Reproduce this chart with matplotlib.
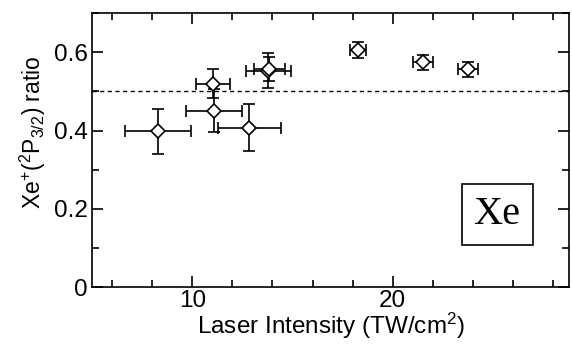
import matplotlib
matplotlib.use('Agg')
import matplotlib.pyplot as plt
from matplotlib.ticker import MultipleLocator

# data
intensity = [8.27, 11.02, 11.07, 12.85, 13.80, 13.85, 18.27, 21.52, 23.77]
intensity_err = [1.64, 0.85, 1.40, 1.58, 1.11, 0.78, 0.38, 0.50, 0.50]
ratio = [0.398, 0.520, 0.451, 0.407, 0.553, 0.557, 0.606, 0.574, 0.557]
ratio_err = [0.057, 0.037, 0.055, 0.060, 0.045, 0.030, 0.020, 0.020, 0.019]
ref_level = 0.5

plt.rcParams['font.family'] = ['Liberation Sans', 'DejaVu Sans']
plt.rcParams['mathtext.default'] = 'regular'

fig = plt.figure(figsize=(5.72, 3.45), dpi=100)
ax = fig.add_axes([0.161, 0.168, 0.834, 0.794])

ax.errorbar(intensity, ratio, xerr=intensity_err, yerr=ratio_err, fmt='D',
            mfc='white', mec='black', ecolor='black', ms=7, mew=1.2,
            elinewidth=1.2, capsize=4.5, capthick=1.2)
ax.axhline(ref_level, color='black', ls=(0, (3, 2.5)), lw=1)

ax.set_xlim(5, 28.8)
ax.set_ylim(0, 0.7)
ax.xaxis.set_major_locator(MultipleLocator(10))
ax.xaxis.set_minor_locator(MultipleLocator(2))
ax.yaxis.set_major_locator(MultipleLocator(0.2))
ax.yaxis.set_minor_locator(MultipleLocator(0.1))
ax.set_yticks([0, 0.2, 0.4, 0.6])
ax.set_yticklabels(['0', '0.2', '0.4', '0.6'])
ax.tick_params(which='both', direction='in', top=True, right=True,
               labelsize=17.5, width=1.2, color='black')
ax.tick_params(which='major', length=8, pad=3)
ax.tick_params(axis='x', which='major', pad=2)
ax.tick_params(which='minor', length=5)
for s in ax.spines.values():
    s.set_linewidth(1.2)

ax.set_xlabel('Laser Intensity (TW/cm$^{2}$)', fontsize=17.5, labelpad=-1)
ax.set_ylabel('Xe$^{+}$($^{2}$P$_{3/2}$) ratio', fontsize=16.5)
ax.yaxis.set_label_coords(-0.092, 0.566)

ax.text(0.849, 0.265, 'Xe', transform=ax.transAxes, ha='center', va='center',
        fontsize=29, family='Liberation Serif',
        bbox=dict(boxstyle='square,pad=0.3', fc='white', ec='black', lw=1.2))

fig.savefig('out.png', dpi=100)
